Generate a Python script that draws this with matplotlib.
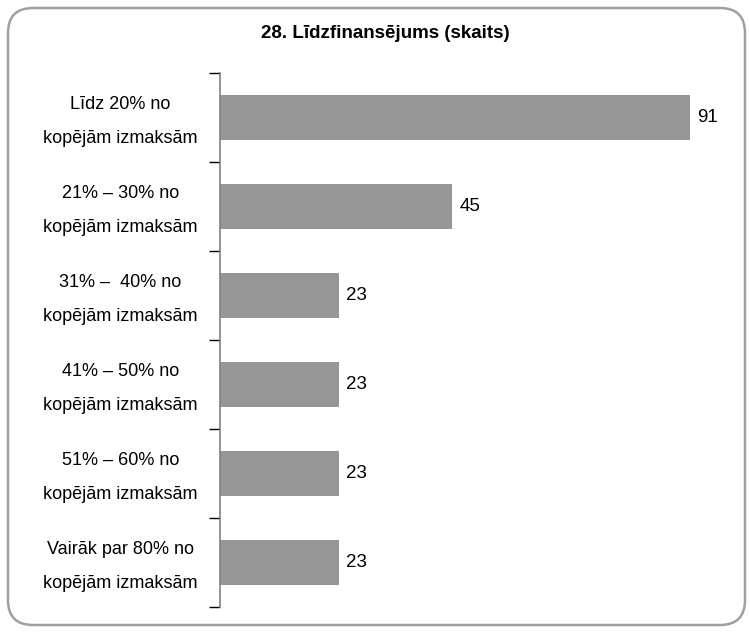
import matplotlib.pyplot as plt
import matplotlib.transforms as mtransforms
from matplotlib.patches import FancyBboxPatch

plt.rcParams['font.family'] = ['Liberation Sans Narrow', 'Liberation Sans', 'DejaVu Sans']

# data
categories = ['Līdz 20% no\nkopējām izmaksām',
              '21% – 30% no\nkopējām izmaksām',
              '31% –  40% no\nkopējām izmaksām',
              '41% – 50% no\nkopējām izmaksām',
              '51% – 60% no\nkopējām izmaksām',
              'Vairāk par 80% no\nkopējām izmaksām']
values = [91, 45, 23, 23, 23, 23]
title = '28. Līdzfinansējums (skaits)'

fig = plt.figure(figsize=(7.5, 6.32), dpi=100)

# rounded frame round the whole chart
frame = FancyBboxPatch((0.08, 0.07), 7.37, 6.17,
                       boxstyle='round,pad=0,rounding_size=0.25',
                       transform=fig.dpi_scale_trans, facecolor='none',
                       edgecolor='#a0a0a0', linewidth=1.8, zorder=-1)
fig.patches.append(frame)

ax = fig.add_axes([0.2933, 0.0396, 0.6667, 0.8449])
ax.patch.set_alpha(0)

pos = list(range(len(categories)))
ax.barh(pos, values, height=0.5, color='#969696', zorder=2)
ax.set_ylim(len(categories) - 0.5, -0.5)
ax.set_xlim(0, 96.8)

for p, v in zip(pos, values):
    ax.text(v + 1.4, p, str(v), va='center', ha='left', fontsize=13.5)

# ticks between categories, labels at centres
ax.set_yticks([i - 0.5 for i in range(len(categories) + 1)])
ax.set_yticklabels([])
ax.tick_params(axis='y', which='major', length=8, width=1, color='black', direction='out')
ax.set_yticks(pos, minor=True)
ax.set_yticklabels(categories, minor=True, fontsize=13, multialignment='center',
                   linespacing=2.25, va='center')
ax.tick_params(axis='y', which='minor', length=0, pad=16)
# nudge labels down a little
shift = mtransforms.ScaledTranslation(0, -4 / 100, fig.dpi_scale_trans)
for lbl in ax.get_yticklabels(minor=True):
    lbl.set_transform(lbl.get_transform() + shift)

ax.set_xticks([])
for s in ['top', 'right', 'bottom']:
    ax.spines[s].set_visible(False)
ax.spines['left'].set_color('#808080')
ax.spines['left'].set_linewidth(1.2)

fig.text(0.514, 1 - 33 / 632, title, ha='center', va='center', fontsize=13.5, fontweight='bold')

fig.savefig('out.png', dpi=100)
